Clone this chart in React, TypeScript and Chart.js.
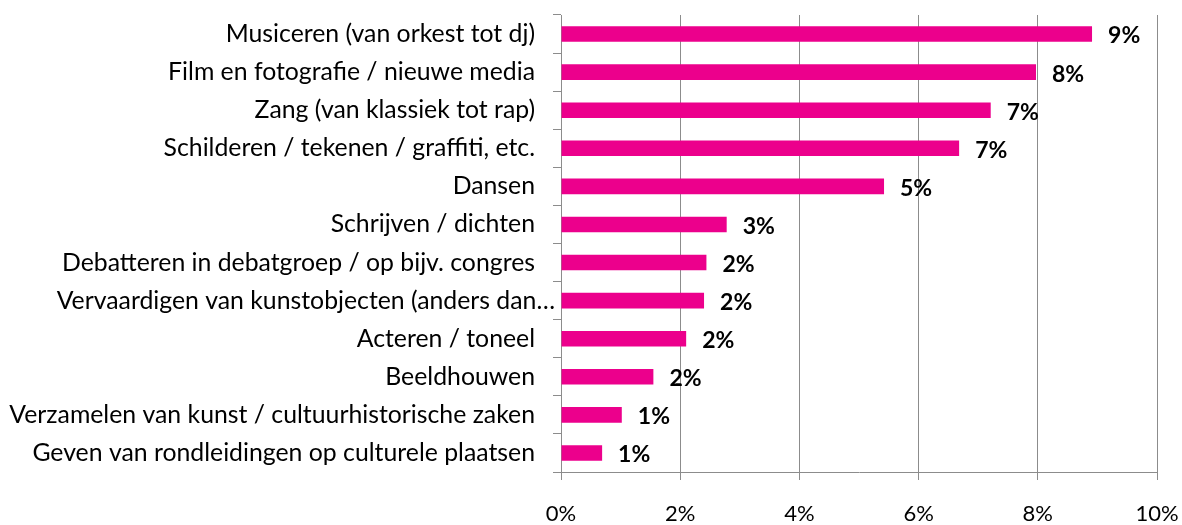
import React, { useEffect, useRef } from "react";
import { Chart, registerables } from "chart.js";

Chart.register(...registerables);

const categories = [
  "Musiceren (van orkest tot dj)",
  "Film en fotografie / nieuwe media",
  "Zang (van klassiek tot rap)",
  "Schilderen / tekenen / graffiti, etc.",
  "Dansen",
  "Schrijven / dichten",
  "Debatteren in debatgroep / op bijv. congres",
  "Vervaardigen van kunstobjecten (anders dan…",
  "Acteren / toneel",
  "Beeldhouwen",
  "Verzamelen van kunst / cultuurhistorische zaken",
  "Geven van rondleidingen op culturele plaatsen",
];

const values = [8.91, 7.97, 7.21, 6.68, 5.42, 2.78, 2.44, 2.4, 2.1, 1.55, 1.02, 0.69];
const valueLabels = ["9%", "8%", "7%", "7%", "5%", "3%", "2%", "2%", "2%", "2%", "1%", "1%"];
const xTicks = [0, 2, 4, 6, 8, 10];
// The truncated category label sits closer to the axis in the original
const truncatedIndex = 7;

const FONT = "Lato";
const CAT_SIZE = 24.8;
const BAR = "#EC008C";
const GRID = "#8C8C8C";

const labelPlugin = {
  id: "barLabels",
  afterDatasetsDraw(chart: any) {
    const ctx = chart.ctx;
    const meta = chart.getDatasetMeta(0);
    ctx.save();
    ctx.font = `bold 23px ${FONT}`;
    ctx.fillStyle = "#000";
    ctx.textAlign = "left";
    ctx.textBaseline = "middle";
    meta.data.forEach((bar: any, i: number) => {
      ctx.fillText(valueLabels[i], bar.x + 16, bar.y + 2);
    });
    const y = chart.scales.y;
    ctx.font = `${CAT_SIZE}px ${FONT}`;
    ctx.textAlign = "right";
    ctx.fillText(categories[truncatedIndex], y.right - 6, y.getPixelForValue(truncatedIndex));
    ctx.restore();
  },
};

export default function App() {
  const ref = useRef<HTMLCanvasElement | null>(null);
  useEffect(() => {
    if (!ref.current) return;
    const chart = new Chart(ref.current, {
      type: "bar",
      data: {
        labels: categories,
        datasets: [
          {
            data: values,
            backgroundColor: BAR,
            borderWidth: 0,
            barPercentage: 0.41,
            categoryPercentage: 1,
          },
        ],
      },
      options: {
        indexAxis: "y",
        responsive: false,
        animation: false,
        maintainAspectRatio: false,
        layout: { padding: { top: 15, right: 25, left: 0, bottom: 0 } },
        plugins: { legend: { display: false }, tooltip: { enabled: false } },
        scales: {
          x: {
            min: 0,
            max: 10,
            afterBuildTicks: (s: any) => {
              s.ticks = xTicks.map((v) => ({ value: v }));
            },
            afterFit: (s: any) => {
              s.height = 53;
              s.paddingLeft = 0;
              s.paddingRight = 0;
              s.paddingTop = 0;
              s.paddingBottom = 0;
            },
            ticks: {
              callback: (v: any) => v + "%",
              font: { family: FONT, size: 22 },
              color: "#000",
              padding: 21,
              maxRotation: 0,
            },
            grid: { color: GRID, tickLength: 8, lineWidth: 1 },
            border: { color: GRID, width: 1 },
          },
          y: {
            afterFit: (s: any) => {
              s.width = 561;
              s.paddingLeft = 0;
              s.paddingRight = 0;
              s.paddingTop = 0;
              s.paddingBottom = 0;
            },
            ticks: {
              callback: (_v: any, i: number) => (i === truncatedIndex ? "" : categories[i]),
              font: { family: FONT, size: CAT_SIZE },
              color: "#000",
              padding: 18,
              autoSkip: false,
            },
            grid: { drawOnChartArea: false, color: GRID, tickLength: 8, offset: true },
            border: { color: GRID, width: 1 },
          },
        },
      },
      plugins: [labelPlugin],
    } as any);
    return () => chart.destroy();
  }, []);
  return (
    <div style={{ position: "fixed", left: 0, top: 0, width: 1182, height: 525, background: "#fff" }}>
      <canvas ref={ref} width={1182} height={525} style={{ width: 1182, height: 525 }} />
    </div>
  );
}
